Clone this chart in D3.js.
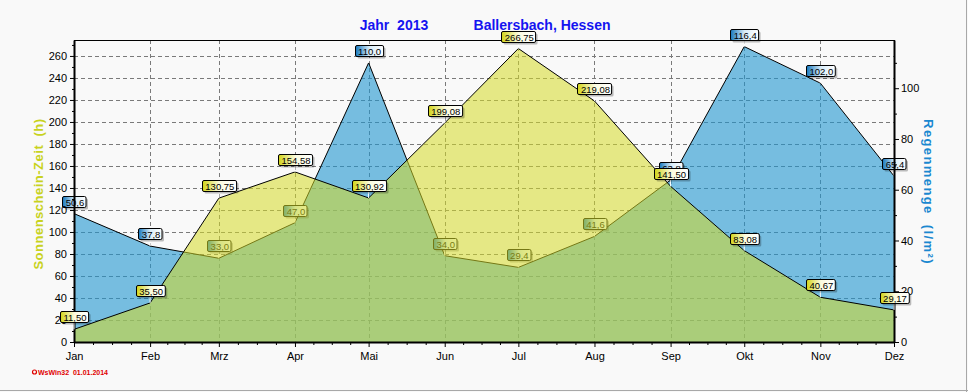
<!DOCTYPE html>
<html><head><meta charset="utf-8">
<script src="https://cdn.jsdelivr.net/npm/d3@7/dist/d3.min.js"></script>
<style>
html,body{margin:0;padding:0;background:#f9f9f9;}
svg{display:block;font-family:"Liberation Sans",Arial,sans-serif;}
text{white-space:pre;}
</style></head>
<body>
<svg id="chart" width="968" height="392"></svg>
<script>
// ---- data ----
const months = ["Jan","Feb","Mrz","Apr","Mai","Jun","Jul","Aug","Sep","Okt","Nov","Dez"];
const sunshine = [11.50, 35.50, 130.75, 154.58, 130.92, 199.08, 266.75, 219.08, 141.50, 83.08, 40.67, 29.17];
const rain = [50.6, 37.8, 33.0, 47.0, 110.0, 34.0, 29.4, 41.6, 63.8, 116.4, 102.0, 65.4];
const leftTicks = [0,20,40,60,80,100,120,140,160,180,200,220,240,260];
const rightTicks = [0,20,40,60,80,100];
const titleLeft = "Jahr  2013";
const titleRight = "Ballersbach, Hessen";
const yTitleLeft = "Sonnenschein-Zeit  (h)";
const yTitleRight = "Regenmenge  (l/m²)";
const footer = "WsWin32  01.01.2014";

const dates = months.map((m,i)=>new Date(2013,i,1));

const svg = d3.select("#chart");
const W=968,H=392;
const x = d3.scaleTime().domain([dates[0], dates[11]]).range([74, 894]);
const yL = d3.scaleLinear().domain([0, 274.5]).range([342, 40]);
const yR = d3.scaleLinear().domain([0, 119]).range([342, 40]);

svg.append("rect").attr("width",W).attr("height",H).attr("fill","#f9f9f9");
// outer border right/bottom
svg.append("line").attr("x1",W-1.5).attr("x2",W-1.5).attr("y1",0).attr("y2",H).attr("stroke","#a8a8a8");
svg.append("line").attr("x1",0).attr("x2",W).attr("y1",H-1.5).attr("y2",H-1.5).attr("stroke","#a8a8a8");

const defs = svg.append("defs");
function grad(id, c1, c2){
  const g = defs.append("linearGradient").attr("id",id).attr("x1",0).attr("x2",1).attr("y1",0).attr("y2",0);
  g.append("stop").attr("offset",0).attr("stop-color",c1);
  g.append("stop").attr("offset",0.5).attr("stop-color",c2);
  g.append("stop").attr("offset",1).attr("stop-color","#ffffff");
}
grad("gY","#d2d418","#fbfbe0");
grad("gB","#1577bd","#d8ecf8");

// grid
const grid = svg.append("g").attr("stroke","#7a7a7a").attr("stroke-dasharray","4,3").attr("stroke-width",1);
leftTicks.filter(t=>t>0).forEach(t=>{
  grid.append("line").attr("x1",74).attr("x2",894).attr("y1",Math.round(yL(t))+0.5).attr("y2",Math.round(yL(t))+0.5);
});
dates.slice(1,11).forEach(d=>{
  grid.append("line").attr("x1",Math.round(x(d))+0.5).attr("x2",Math.round(x(d))+0.5).attr("y1",40).attr("y2",342);
});

// rain area
const rainArea = d3.area().x((d,i)=>x(dates[i])).y0(yR(0)).y1(d=>yR(d));
const rainLine = d3.line().x((d,i)=>x(dates[i])).y(d=>yR(d));
svg.append("path").attr("d",rainArea(rain)).attr("fill","rgb(30,148,206)").attr("fill-opacity",0.6);
svg.append("path").attr("d",rainLine(rain)).attr("fill","none").attr("stroke","#000").attr("stroke-width",1);

function labels(vals, yS, fmt, gid){
  const g = svg.append("g");
  vals.forEach((v,i)=>{
    const px = x(dates[i]), py = yS(v);
    const t = g.append("text").text(fmt(v)).attr("font-size","9.5px").attr("fill","#000");
    const w = t.node().getComputedTextLength()+5;
    const bx = Math.round(px - w/2)+0.5, by = Math.round(py - 18)+0.5;
    g.insert("line","text").attr("x1",px).attr("x2",px).attr("y1",by+11).attr("y2",py).attr("stroke","#fff").attr("stroke-width",1);
    g.insert("rect","text").attr("x",bx+2).attr("y",by+2).attr("width",w).attr("height",11).attr("fill","#000").attr("fill-opacity",0.25).attr("rx",1.5);
    g.insert("rect","text").attr("x",bx).attr("y",by).attr("width",w).attr("height",11).attr("fill",`url(#${gid})`).attr("stroke","#000").attr("rx",1.5);
    t.raise().attr("x",px+1).attr("y",by+9).attr("text-anchor","middle");
  });
}
const fmtR = v=>d3.format(".1f")(v).replace(".",",");
const fmtS = v=>d3.format(".2f")(v).replace(".",",");
labels(rain, yR, fmtR, "gB");

// sunshine area
const sunArea = d3.area().x((d,i)=>x(dates[i])).y0(yL(0)).y1(d=>yL(d));
const sunLine = d3.line().x((d,i)=>x(dates[i])).y(d=>yL(d));
svg.append("path").attr("d",sunArea(sunshine)).attr("fill","rgb(213,219,39)").attr("fill-opacity",0.55);
svg.append("path").attr("d",sunLine(sunshine)).attr("fill","none").attr("stroke","#000").attr("stroke-width",1);

// frame top
svg.append("line").attr("x1",74).attr("x2",895).attr("y1",40.5).attr("y2",40.5).attr("stroke","#000");

// axes
const axL = svg.append("g").attr("transform","translate(74,0)")
  .call(d3.axisLeft(yL).tickValues(leftTicks).tickSize(4).tickSizeOuter(0).tickPadding(3).tickFormat(d3.format("d")));
const axLm = svg.append("g").attr("transform","translate(74,0)")
  .call(d3.axisLeft(yL).tickValues(d3.range(10,274,20)).tickSize(2).tickSizeOuter(0).tickFormat(""));
axLm.select(".domain").remove();
const axR = svg.append("g").attr("transform","translate(894,0)")
  .call(d3.axisRight(yR).tickValues(rightTicks).tickSize(5).tickSizeOuter(0).tickPadding(2).tickFormat(d3.format("d")));
const axRm = svg.append("g").attr("transform","translate(894,0)")
  .call(d3.axisRight(yR).tickValues(d3.range(10,119,10).filter(v=>v%20)).tickSize(3).tickSizeOuter(0).tickFormat(""));
axRm.select(".domain").remove();
const axB = svg.append("g").attr("transform","translate(0,342)")
  .call(d3.axisBottom(x).tickValues(dates).tickSize(5).tickSizeOuter(0).tickPadding(5).tickFormat((d,i)=>months[i]));
const minorDates = [];
for(let i=0;i<11;i++){ for(let k=1;k<4;k++){ const a=+dates[i], b=+dates[i+1]; minorDates.push(new Date(a+(b-a)*k/4)); } }
const axBm = svg.append("g").attr("transform","translate(0,342)")
  .call(d3.axisBottom(x).tickValues(minorDates).tickSize(3).tickSizeOuter(0).tickFormat(""));
axBm.select(".domain").remove();
[axL,axR,axB].forEach(a=>{ a.select(".domain").attr("stroke-width",2).attr("stroke","#000"); });
svg.selectAll(".tick line").attr("stroke","#000");
svg.selectAll(".tick text").attr("font-size","11px").attr("fill","#000").attr("font-family","'Liberation Sans',Arial,sans-serif");

// sunshine labels on top
labels(sunshine, yL, fmtS, "gY");

// titles
svg.append("text").attr("x",394).attr("y",30).attr("text-anchor","middle").attr("font-size","14px").attr("font-weight","bold").attr("fill","#1414f0").text(titleLeft);
svg.append("text").attr("x",542).attr("y",30).attr("text-anchor","middle").attr("font-size","14px").attr("font-weight","bold").attr("fill","#1414f0").text(titleRight);
svg.append("text").attr("transform","translate(43,194) rotate(-90)").attr("text-anchor","middle").attr("font-size","13px").attr("font-weight","bold").attr("letter-spacing","0.5px").attr("fill","#c8d21e").text(yTitleLeft);
svg.append("text").attr("transform","translate(924,192) rotate(90)").attr("text-anchor","middle").attr("font-size","13px").attr("font-weight","bold").attr("letter-spacing","1.4px").attr("fill","#1a88d0").text(yTitleRight);

// footer
svg.append("circle").attr("cx",34.5).attr("cy",372).attr("r",2).attr("fill","none").attr("stroke","#e00000").attr("stroke-width",1.2);
svg.append("text").attr("x",38).attr("y",375).attr("font-size","7px").attr("font-weight","bold").attr("fill","#e00000").text(footer);
</script>
</body></html>
